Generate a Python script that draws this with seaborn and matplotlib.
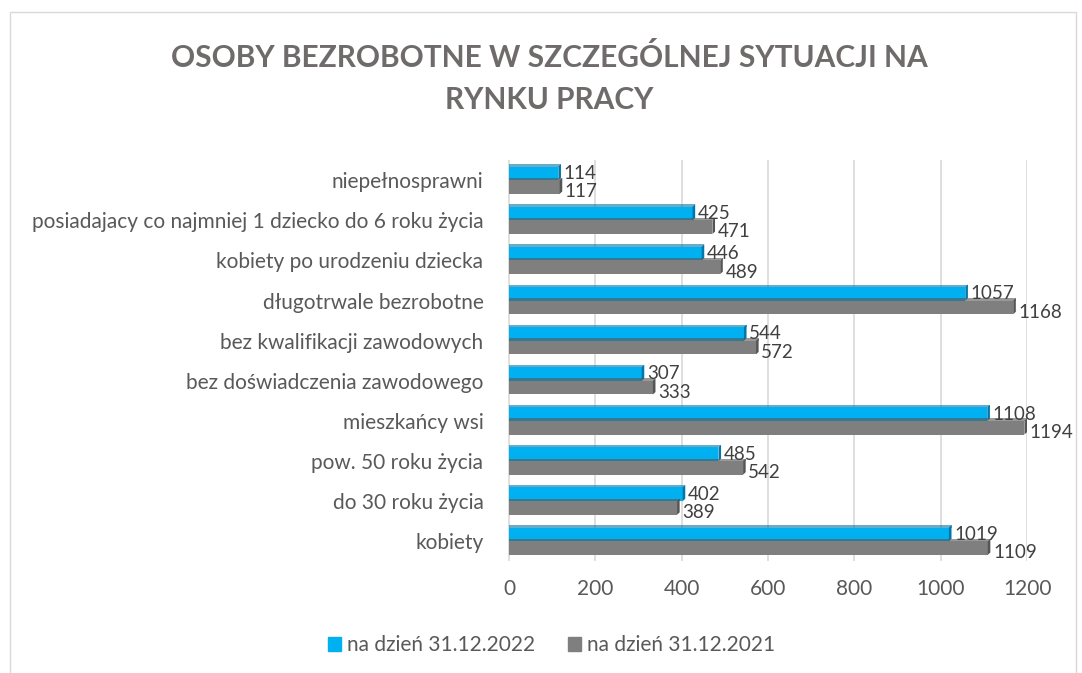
import pandas as pd
import seaborn as sns
import matplotlib.pyplot as plt
from matplotlib.patches import Polygon, Rectangle

# Data (top to bottom as shown in the chart)
categories = ['niepełnosprawni',
              'posiadajacy co najmniej 1 dziecko do 6 roku życia',
              'kobiety po urodzeniu dziecka',
              'długotrwale bezrobotne',
              'bez kwalifikacji zawodowych',
              'bez doświadczenia zawodowego',
              'mieszkańcy wsi',
              'pow. 50 roku życia',
              'do 30 roku życia',
              'kobiety']
v2022 = [114, 425, 446, 1057, 544, 307, 1108, 485, 402, 1019]
v2021 = [117, 471, 489, 1168, 572, 333, 1194, 542, 389, 1109]
series = ['na dzień 31.12.2022', 'na dzień 31.12.2021']
xticks = [0, 200, 400, 600, 800, 1000, 1200]

df = pd.DataFrame({'kategoria': categories * 2,
                   'okres': [series[0]] * len(categories) + [series[1]] * len(categories),
                   'wartosc': v2022 + v2021})

sns.set_style('white')
plt.rcParams['font.family'] = ['Lato', 'DejaVu Sans']

colors = {series[0]: '#00B0F0', series[1]: '#7F7F7F'}
side = {series[0]: '#0077A8', series[1]: '#555555'}

fig = plt.figure(figsize=(10.82, 6.73), dpi=100)
fig.patch.set_facecolor('white')
ax = fig.add_axes([0.4686, 0.166, 0.4806, 0.596])

sns.barplot(data=df, y='kategoria', x='wartosc', hue='okres', hue_order=series,
            order=categories, palette=colors, orient='h', width=0.68,
            saturation=1, ax=ax, legend=True, linewidth=0)

ax.set_xlim(-5, 1200)
ax.set_xticks(xticks)
ax.set_ylim(len(categories) - 0.5, -0.5)
ax.grid(axis='x', color='#D9D9D9', linewidth=1.2)
ax.set_axisbelow(True)
for s in ax.spines.values():
    s.set_visible(False)
ax.set_xlabel('')
ax.set_ylabel('')
ax.tick_params(axis='x', colors='#595959', labelsize=15, length=0, pad=13)
ax.tick_params(axis='y', colors='#595959', labelsize=15, length=0, pad=17)

# simple 3D look: dark end face on each bar, value labels
dx = 6
for cont, name in zip(ax.containers, series):
    for rect, val in zip(cont, cont.datavalues):
        x0, y0 = rect.get_x(), rect.get_y()
        w, h = rect.get_width(), rect.get_height()
        end = x0 + w
        ax.add_patch(Polygon([(end, y0), (end + dx, y0 - 0.06), (end + dx, y0 + h - 0.06),
                              (end, y0 + h)], closed=True, color=side[name], lw=0))
        ax.add_patch(Rectangle((x0, y0 - 0.06), w + dx, 0.06, color=side[name], lw=0, alpha=0.6))
        if name == series[0]:
            ax.text(end + 12, y0 + h * 0.5, f'{val:.0f}', va='center', ha='left',
                    fontsize=13.5, color='#404040')
        else:
            ax.text(end + 12, y0 + h * 0.85, f'{val:.0f}', va='center', ha='left',
                    fontsize=13.5, color='#404040')

ax.legend_.remove()
handles = [Rectangle((0, 0), 1, 1, color=colors[s]) for s in series]
fig.legend(handles, series, loc='center', bbox_to_anchor=(0.51, 0.041), ncol=2,
           frameon=False, fontsize=15, labelcolor='#595959', handlelength=0.6,
           handleheight=0.6, handletextpad=0.3, columnspacing=1.6)

fig.text(0.508, 0.883, 'OSOBY BEZROBOTNE W SZCZEGÓLNEJ SYTUACJI NA\nRYNKU PRACY',
         ha='center', va='center', fontsize=21.5, fontweight='bold', color='#6F6B6B',
         linespacing=1.6)

# chart area border
fig.add_artist(Rectangle((0.009, -0.01), 0.985, 0.992, transform=fig.transFigure,
                         fill=False, edgecolor='#D9D9D9', linewidth=1))

fig.savefig('out.png', dpi=100, facecolor='white')
